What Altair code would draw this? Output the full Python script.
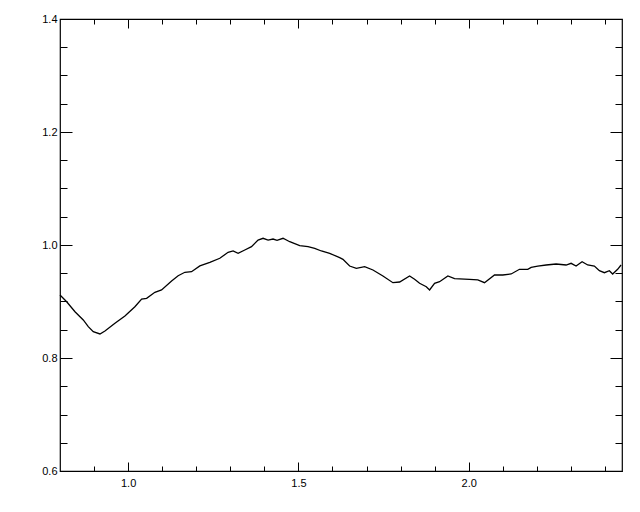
import altair as alt
import pandas as pd

wavelength = [0.8000, 0.8196, 0.8440, 0.8683, 0.8830, 0.8977, 0.9173, 0.9320, 0.9613, 0.9906,
              1.0199, 1.0396, 1.0543, 1.0786, 1.0982, 1.1276, 1.1469, 1.1666, 1.1862, 1.2106,
              1.2399, 1.2692, 1.2935, 1.3082, 1.3229, 1.3425, 1.3622, 1.3815, 1.3962, 1.4109,
              1.4255, 1.4372, 1.4548, 1.4745, 1.5038, 1.5282, 1.5478, 1.5674, 1.5918, 1.6211,
              1.6308, 1.6504, 1.6701, 1.6944, 1.7188, 1.7481, 1.7774, 1.7971, 1.8264, 1.8411,
              1.8557, 1.8754, 1.8851, 1.8997, 1.9144, 1.9387, 1.9584, 2.0023, 2.0267, 2.0463,
              2.0757, 2.1000, 2.1246, 2.1490, 2.1733, 2.1833, 2.2026, 2.2273, 2.2566, 2.2859,
              2.3006, 2.3152, 2.3328, 2.3493, 2.3689, 2.3836, 2.3983, 2.4129, 2.4226, 2.4372,
              2.4472]
ratio = [0.9115, 0.8996, 0.8819, 0.8673, 0.8554, 0.8465, 0.8425, 0.8478, 0.8614, 0.8743,
         0.8908, 0.9044, 0.9057, 0.9163, 0.9204, 0.9363, 0.9457, 0.9517, 0.9527, 0.9630,
         0.9694, 0.9765, 0.9871, 0.9894, 0.9853, 0.9912, 0.9970, 1.0088, 1.0119, 1.0088,
         1.0106, 1.0083, 1.0119, 1.0058, 0.9988, 0.9970, 0.9942, 0.9894, 0.9853, 0.9775,
         0.9747, 0.9628, 0.9588, 0.9616, 0.9558, 0.9451, 0.9333, 0.9345, 0.9451, 0.9393,
         0.9322, 0.9262, 0.9204, 0.9322, 0.9350, 0.9451, 0.9404, 0.9393, 0.9381, 0.9333,
         0.9469, 0.9469, 0.9487, 0.9570, 0.9570, 0.9605, 0.9628, 0.9646, 0.9664, 0.9646,
         0.9676, 0.9628, 0.9704, 0.9646, 0.9628, 0.9545, 0.9510, 0.9545, 0.9487, 0.9570,
         0.9646]

x_major = [1.0, 1.5, 2.0]
x_minor = [0.9, 1.1, 1.2, 1.3, 1.4, 1.6, 1.7, 1.8, 1.9, 2.1, 2.2, 2.3, 2.4]
y_major = [0.6, 0.8, 1.0, 1.2, 1.4]
y_minor = [0.65, 0.7, 0.75, 0.85, 0.9, 0.95, 1.05, 1.1, 1.15, 1.25, 1.3, 1.35]

df = pd.DataFrame({"x": wavelength, "y": ratio})

xs = alt.Scale(domain=[0.8, 2.45], nice=False, zero=False)
ys = alt.Scale(domain=[0.6, 1.4], nice=False, zero=False)

common = dict(domain=False, grid=False, title=None, tickColor="black", tickWidth=1,
              labelColor="black", labelFont="Liberation Sans", labelFontSize=11,
              labelFlush=False, labelOverlap=False, labelBound=False, format=".1f")


def axis(orient, values, size, labels, pad=3):
    kw = dict(common)
    kw.update(orient=orient, values=values, tickSize=size, offset=-size, labels=labels)
    if labels:
        kw["labelPadding"] = pad
    return alt.Axis(**kw)


def layer(xaxis, yaxis, opacity):
    return alt.Chart(df).mark_line(color="black", strokeWidth=1.3, opacity=opacity).encode(
        x=alt.X("x:Q", scale=xs, axis=xaxis),
        y=alt.Y("y:Q", scale=ys, axis=yaxis),
    )


l1 = layer(axis("bottom", x_major, 9, True, pad=6), axis("left", y_major, 12, True, pad=3), 1)
l2 = layer(axis("bottom", x_minor, 5, False), axis("left", y_minor, 7, False), 0)
l3 = layer(axis("top", x_major, 9, False), axis("right", y_major, 12, False), 0)
l4 = layer(axis("top", x_minor, 5, False), axis("right", y_minor, 7, False), 0)

chart = (
    alt.layer(l4, l3, l2, l1)
    .resolve_axis(x="independent", y="independent")
    .properties(
        width=562,
        height=452,
        autosize=alt.AutoSizeParams(type="none"),
        padding={"left": 52, "top": 11, "right": 10, "bottom": 30},
        background="white",
    )
    .configure_view(stroke="black", strokeWidth=1.2)
)

chart.save("out.html", embed_options={"renderer": "svg", "actions": False})
